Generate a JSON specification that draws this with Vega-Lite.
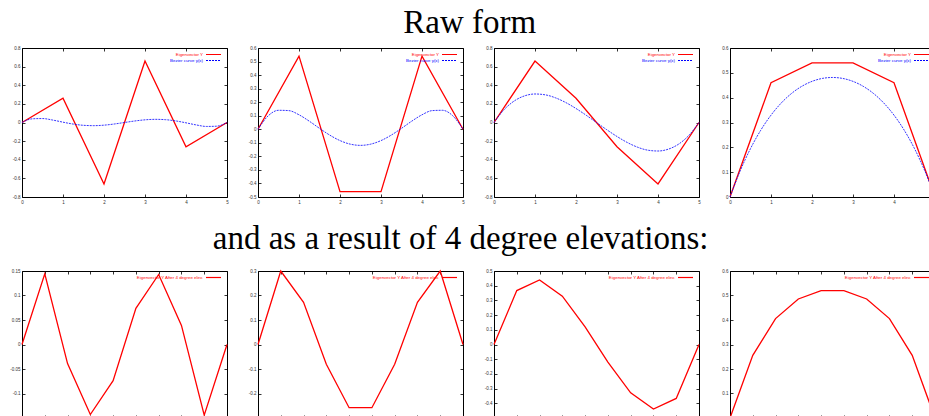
{
  "$schema": "https://vega.github.io/schema/vega-lite/v6.json",
  "padding": {"left": 9, "top": 6, "right": 0, "bottom": 0},
  "background": "white",
  "datasets": {
    "r1": [{"s":"Eigenvector Y","x":0,"y":0},{"s":"Eigenvector Y","x":1,"y":0.26},{"s":"Eigenvector Y","x":2,"y":-0.66},{"s":"Eigenvector Y","x":3,"y":0.66},{"s":"Eigenvector Y","x":4,"y":-0.26},{"s":"Eigenvector Y","x":5,"y":0}],
    "r2": [{"s":"Eigenvector Y","x":0,"y":0},{"s":"Eigenvector Y","x":1,"y":0.54},{"s":"Eigenvector Y","x":2,"y":-0.46},{"s":"Eigenvector Y","x":3,"y":-0.46},{"s":"Eigenvector Y","x":4,"y":0.54},{"s":"Eigenvector Y","x":5,"y":0}],
    "r3": [{"s":"Eigenvector Y","x":0,"y":0},{"s":"Eigenvector Y","x":1,"y":0.66},{"s":"Eigenvector Y","x":2,"y":0.26},{"s":"Eigenvector Y","x":3,"y":-0.26},{"s":"Eigenvector Y","x":4,"y":-0.66},{"s":"Eigenvector Y","x":5,"y":0}],
    "r4": [{"s":"Eigenvector Y","x":0,"y":0},{"s":"Eigenvector Y","x":1,"y":0.46},{"s":"Eigenvector Y","x":2,"y":0.54},{"s":"Eigenvector Y","x":3,"y":0.54},{"s":"Eigenvector Y","x":4,"y":0.46},{"s":"Eigenvector Y","x":5,"y":0}],
    "b1": [{"s":"Bezier curve y(x)","x":0,"y":0},{"s":"Bezier curve y(x)","x":0.25,"y":0.0395},{"s":"Bezier curve y(x)","x":0.5,"y":0.0424},{"s":"Bezier curve y(x)","x":0.75,"y":0.0261},{"s":"Bezier curve y(x)","x":1,"y":0.0035},{"s":"Bezier curve y(x)","x":1.25,"y":-0.017},{"s":"Bezier curve y(x)","x":1.5,"y":-0.0302},{"s":"Bezier curve y(x)","x":1.75,"y":-0.0339},{"s":"Bezier curve y(x)","x":2,"y":-0.0286},{"s":"Bezier curve y(x)","x":2.25,"y":-0.0162},{"s":"Bezier curve y(x)","x":2.5,"y":0},{"s":"Bezier curve y(x)","x":2.75,"y":0.0162},{"s":"Bezier curve y(x)","x":3,"y":0.0286},{"s":"Bezier curve y(x)","x":3.25,"y":0.0339},{"s":"Bezier curve y(x)","x":3.5,"y":0.0302},{"s":"Bezier curve y(x)","x":3.75,"y":0.017},{"s":"Bezier curve y(x)","x":4,"y":-0.0035},{"s":"Bezier curve y(x)","x":4.25,"y":-0.0261},{"s":"Bezier curve y(x)","x":4.5,"y":-0.0424},{"s":"Bezier curve y(x)","x":4.75,"y":-0.0395},{"s":"Bezier curve y(x)","x":5,"y":0}],
    "b2": [{"s":"Bezier curve y(x)","x":0,"y":0},{"s":"Bezier curve y(x)","x":0.25,"y":0.0996},{"s":"Bezier curve y(x)","x":0.5,"y":0.1401},{"s":"Bezier curve y(x)","x":0.75,"y":0.1378},{"s":"Bezier curve y(x)","x":1,"y":0.1069},{"s":"Bezier curve y(x)","x":1.25,"y":0.0598},{"s":"Bezier curve y(x)","x":1.5,"y":0.0069},{"s":"Bezier curve y(x)","x":1.75,"y":-0.0431},{"s":"Bezier curve y(x)","x":2,"y":-0.0835},{"s":"Bezier curve y(x)","x":2.25,"y":-0.1097},{"s":"Bezier curve y(x)","x":2.5,"y":-0.1188},{"s":"Bezier curve y(x)","x":2.75,"y":-0.1097},{"s":"Bezier curve y(x)","x":3,"y":-0.0835},{"s":"Bezier curve y(x)","x":3.25,"y":-0.0431},{"s":"Bezier curve y(x)","x":3.5,"y":0.0069},{"s":"Bezier curve y(x)","x":3.75,"y":0.0598},{"s":"Bezier curve y(x)","x":4,"y":0.1069},{"s":"Bezier curve y(x)","x":4.25,"y":0.1378},{"s":"Bezier curve y(x)","x":4.5,"y":0.1401},{"s":"Bezier curve y(x)","x":4.75,"y":0.0996},{"s":"Bezier curve y(x)","x":5,"y":0}],
    "b3": [{"s":"Bezier curve y(x)","x":0,"y":0},{"s":"Bezier curve y(x)","x":0.25,"y":0.1397},{"s":"Bezier curve y(x)","x":0.5,"y":0.2331},{"s":"Bezier curve y(x)","x":0.75,"y":0.2866},{"s":"Bezier curve y(x)","x":1,"y":0.3061},{"s":"Bezier curve y(x)","x":1.25,"y":0.2971},{"s":"Bezier curve y(x)","x":1.5,"y":0.2649},{"s":"Bezier curve y(x)","x":1.75,"y":0.2144},{"s":"Bezier curve y(x)","x":2,"y":0.1503},{"s":"Bezier curve y(x)","x":2.25,"y":0.0774},{"s":"Bezier curve y(x)","x":2.5,"y":0},{"s":"Bezier curve y(x)","x":2.75,"y":-0.0774},{"s":"Bezier curve y(x)","x":3,"y":-0.1503},{"s":"Bezier curve y(x)","x":3.25,"y":-0.2144},{"s":"Bezier curve y(x)","x":3.5,"y":-0.2649},{"s":"Bezier curve y(x)","x":3.75,"y":-0.2971},{"s":"Bezier curve y(x)","x":4,"y":-0.3061},{"s":"Bezier curve y(x)","x":4.25,"y":-0.2866},{"s":"Bezier curve y(x)","x":4.5,"y":-0.2331},{"s":"Bezier curve y(x)","x":4.75,"y":-0.1397},{"s":"Bezier curve y(x)","x":5,"y":0}],
    "b4": [{"s":"Bezier curve y(x)","x":0,"y":0},{"s":"Bezier curve y(x)","x":0.25,"y":0.1059},{"s":"Bezier curve y(x)","x":0.5,"y":0.1949},{"s":"Bezier curve y(x)","x":0.75,"y":0.2689},{"s":"Bezier curve y(x)","x":1,"y":0.3296},{"s":"Bezier curve y(x)","x":1.25,"y":0.3785},{"s":"Bezier curve y(x)","x":1.5,"y":0.4169},{"s":"Bezier curve y(x)","x":1.75,"y":0.4456},{"s":"Bezier curve y(x)","x":2,"y":0.4656},{"s":"Bezier curve y(x)","x":2.25,"y":0.4774},{"s":"Bezier curve y(x)","x":2.5,"y":0.4813},{"s":"Bezier curve y(x)","x":2.75,"y":0.4774},{"s":"Bezier curve y(x)","x":3,"y":0.4656},{"s":"Bezier curve y(x)","x":3.25,"y":0.4456},{"s":"Bezier curve y(x)","x":3.5,"y":0.4169},{"s":"Bezier curve y(x)","x":3.75,"y":0.3785},{"s":"Bezier curve y(x)","x":4,"y":0.3296},{"s":"Bezier curve y(x)","x":4.25,"y":0.2689},{"s":"Bezier curve y(x)","x":4.5,"y":0.1949},{"s":"Bezier curve y(x)","x":4.75,"y":0.1059},{"s":"Bezier curve y(x)","x":5,"y":0}],
    "e1": [{"s":"Eigenvector Y After 4 degree elev.","x":0,"y":0},{"s":"Eigenvector Y After 4 degree elev.","x":1,"y":0.1444},{"s":"Eigenvector Y After 4 degree elev.","x":2,"y":-0.0389},{"s":"Eigenvector Y After 4 degree elev.","x":3,"y":-0.1429},{"s":"Eigenvector Y After 4 degree elev.","x":4,"y":-0.0738},{"s":"Eigenvector Y After 4 degree elev.","x":5,"y":0.0738},{"s":"Eigenvector Y After 4 degree elev.","x":6,"y":0.1429},{"s":"Eigenvector Y After 4 degree elev.","x":7,"y":0.0389},{"s":"Eigenvector Y After 4 degree elev.","x":8,"y":-0.1444},{"s":"Eigenvector Y After 4 degree elev.","x":9,"y":0}],
    "e2": [{"s":"Eigenvector Y After 4 degree elev.","x":0,"y":0},{"s":"Eigenvector Y After 4 degree elev.","x":1,"y":0.3},{"s":"Eigenvector Y After 4 degree elev.","x":2,"y":0.1722},{"s":"Eigenvector Y After 4 degree elev.","x":3,"y":-0.081},{"s":"Eigenvector Y After 4 degree elev.","x":4,"y":-0.2579},{"s":"Eigenvector Y After 4 degree elev.","x":5,"y":-0.2579},{"s":"Eigenvector Y After 4 degree elev.","x":6,"y":-0.081},{"s":"Eigenvector Y After 4 degree elev.","x":7,"y":0.1722},{"s":"Eigenvector Y After 4 degree elev.","x":8,"y":0.3},{"s":"Eigenvector Y After 4 degree elev.","x":9,"y":0}],
    "e3": [{"s":"Eigenvector Y After 4 degree elev.","x":0,"y":0},{"s":"Eigenvector Y After 4 degree elev.","x":1,"y":0.3667},{"s":"Eigenvector Y After 4 degree elev.","x":2,"y":0.4389},{"s":"Eigenvector Y After 4 degree elev.","x":3,"y":0.3286},{"s":"Eigenvector Y After 4 degree elev.","x":4,"y":0.1198},{"s":"Eigenvector Y After 4 degree elev.","x":5,"y":-0.1198},{"s":"Eigenvector Y After 4 degree elev.","x":6,"y":-0.3286},{"s":"Eigenvector Y After 4 degree elev.","x":7,"y":-0.4389},{"s":"Eigenvector Y After 4 degree elev.","x":8,"y":-0.3667},{"s":"Eigenvector Y After 4 degree elev.","x":9,"y":0}],
    "e4": [{"s":"Eigenvector Y After 4 degree elev.","x":0,"y":0},{"s":"Eigenvector Y After 4 degree elev.","x":1,"y":0.2556},{"s":"Eigenvector Y After 4 degree elev.","x":2,"y":0.4056},{"s":"Eigenvector Y After 4 degree elev.","x":3,"y":0.4857},{"s":"Eigenvector Y After 4 degree elev.","x":4,"y":0.5198},{"s":"Eigenvector Y After 4 degree elev.","x":5,"y":0.5198},{"s":"Eigenvector Y After 4 degree elev.","x":6,"y":0.4857},{"s":"Eigenvector Y After 4 degree elev.","x":7,"y":0.4056},{"s":"Eigenvector Y After 4 degree elev.","x":8,"y":0.2556},{"s":"Eigenvector Y After 4 degree elev.","x":9,"y":0}]
  },
  "config": {
    "view": {"stroke": "black", "strokeWidth": 1},
    "axis": {"labelFont": "Liberation Sans", "labelFontSize": 4.5, "labelColor": "#333333", "tickColor": "black", "tickSize": -3, "tickWidth": 0.8, "domain": false, "grid": false, "labelPadding": 5, "labelFlush": false, "labelOverlap": false},
    "legend": {"orient": "top-right", "offset": 3, "padding": 0, "labelFont": "Liberation Sans", "labelFontSize": 4.4, "symbolType": "M-3,0H3", "symbolSize": 25, "symbolStrokeWidth": 1.2, "labelAlign": "right", "labelOffset": -14, "rowPadding": -2.5, "labelLimit": 300, "labelColor": {"expr": "datum.value == 'Bezier curve y(x)' ? '#0000ff' : '#ff0000'"}},
    "title": {"font": "Liberation Serif", "fontSize": 33, "fontWeight": "normal", "color": "black", "anchor": "middle"},
    "concat": {"spacing": 14}
  },
  "resolve": {"scale": {"color": "independent"}, "legend": {"color": "independent"}},
  "vconcat": [
    {
      "title": {"text": "Raw form", "offset": 5, "dx": -4},
      "spacing": 14,
      "resolve": {"scale": {"color": "independent"}, "legend": {"color": "independent"}},
      "hconcat": [
        {"width": 205, "height": 149, "resolve": {"axis": {"x": "independent", "y": "independent"}}, "layer": [
          {"data": {"name": "r1"}, "mark": {"type": "line", "strokeWidth": 1.3}, "encoding": {
            "x": {"field": "x", "type": "quantitative", "scale": {"domain": [0, 5], "nice": false, "zero": false}, "axis": {"orient": "bottom", "values": [0,1,2,3,4,5], "title": null, "minExtent": 10, "maxExtent": 10}},
            "y": {"field": "y", "type": "quantitative", "scale": {"domain": [-0.8, 0.8], "nice": false, "zero": false}, "axis": {"orient": "left", "values": [-0.8,-0.6,-0.4,-0.2,0,0.2,0.4,0.6,0.8], "title": null, "minExtent": 12, "maxExtent": 12, "labelExpr": "replace(format(datum.value, '~g'), '\u2212', '-')"}},
            "color": {"field": "s", "type": "nominal", "scale": {"domain": ["Eigenvector Y", "Bezier curve y(x)"], "range": ["#ff0000", "#0000ff"]}, "legend": {"title": null, "encode": {"symbols": {"update": {"strokeDash": {"signal": "datum.value == 'Bezier curve y(x)' ? [2, 1] : [1, 0]"}}}}}}}},
          {"data": {"name": "b1"}, "mark": {"type": "line", "strokeWidth": 0.8, "interpolate": "monotone", "strokeDash": [2, 1]}, "encoding": {
            "x": {"field": "x", "type": "quantitative", "axis": null},
            "y": {"field": "y", "type": "quantitative", "axis": null},
            "color": {"field": "s", "type": "nominal"}}},
          {"data": {"name": "r1"}, "mark": {"type": "line", "opacity": 0}, "encoding": {
            "x": {"field": "x", "type": "quantitative", "axis": {"orient": "top", "values": [0,1,2,3,4,5], "labels": false, "title": null, "minExtent": 0, "maxExtent": 0}},
            "y": {"field": "y", "type": "quantitative", "axis": {"orient": "right", "values": [-0.8,-0.6,-0.4,-0.2,0,0.2,0.4,0.6,0.8], "labels": false, "title": null, "minExtent": 0, "maxExtent": 0}}}}
        ]},
        {"width": 205, "height": 149, "resolve": {"axis": {"x": "independent", "y": "independent"}}, "layer": [
          {"data": {"name": "r2"}, "mark": {"type": "line", "strokeWidth": 1.3}, "encoding": {
            "x": {"field": "x", "type": "quantitative", "scale": {"domain": [0, 5], "nice": false, "zero": false}, "axis": {"orient": "bottom", "values": [0,1,2,3,4,5], "title": null, "minExtent": 10, "maxExtent": 10}},
            "y": {"field": "y", "type": "quantitative", "scale": {"domain": [-0.5, 0.6], "nice": false, "zero": false}, "axis": {"orient": "left", "values": [-0.5,-0.4,-0.3,-0.2,-0.1,0,0.1,0.2,0.3,0.4,0.5,0.6], "title": null, "minExtent": 12, "maxExtent": 12, "labelExpr": "replace(format(datum.value, '~g'), '\u2212', '-')"}},
            "color": {"field": "s", "type": "nominal", "scale": {"domain": ["Eigenvector Y", "Bezier curve y(x)"], "range": ["#ff0000", "#0000ff"]}, "legend": {"title": null, "encode": {"symbols": {"update": {"strokeDash": {"signal": "datum.value == 'Bezier curve y(x)' ? [2, 1] : [1, 0]"}}}}}}}},
          {"data": {"name": "b2"}, "mark": {"type": "line", "strokeWidth": 0.8, "interpolate": "monotone", "strokeDash": [2, 1]}, "encoding": {
            "x": {"field": "x", "type": "quantitative", "axis": null},
            "y": {"field": "y", "type": "quantitative", "axis": null},
            "color": {"field": "s", "type": "nominal"}}},
          {"data": {"name": "r2"}, "mark": {"type": "line", "opacity": 0}, "encoding": {
            "x": {"field": "x", "type": "quantitative", "axis": {"orient": "top", "values": [0,1,2,3,4,5], "labels": false, "title": null, "minExtent": 0, "maxExtent": 0}},
            "y": {"field": "y", "type": "quantitative", "axis": {"orient": "right", "values": [-0.5,-0.4,-0.3,-0.2,-0.1,0,0.1,0.2,0.3,0.4,0.5,0.6], "labels": false, "title": null, "minExtent": 0, "maxExtent": 0}}}}
        ]},
        {"width": 205, "height": 149, "resolve": {"axis": {"x": "independent", "y": "independent"}}, "layer": [
          {"data": {"name": "r3"}, "mark": {"type": "line", "strokeWidth": 1.3}, "encoding": {
            "x": {"field": "x", "type": "quantitative", "scale": {"domain": [0, 5], "nice": false, "zero": false}, "axis": {"orient": "bottom", "values": [0,1,2,3,4,5], "title": null, "minExtent": 10, "maxExtent": 10}},
            "y": {"field": "y", "type": "quantitative", "scale": {"domain": [-0.8, 0.8], "nice": false, "zero": false}, "axis": {"orient": "left", "values": [-0.8,-0.6,-0.4,-0.2,0,0.2,0.4,0.6,0.8], "title": null, "minExtent": 12, "maxExtent": 12, "labelExpr": "replace(format(datum.value, '~g'), '\u2212', '-')"}},
            "color": {"field": "s", "type": "nominal", "scale": {"domain": ["Eigenvector Y", "Bezier curve y(x)"], "range": ["#ff0000", "#0000ff"]}, "legend": {"title": null, "encode": {"symbols": {"update": {"strokeDash": {"signal": "datum.value == 'Bezier curve y(x)' ? [2, 1] : [1, 0]"}}}}}}}},
          {"data": {"name": "b3"}, "mark": {"type": "line", "strokeWidth": 0.8, "interpolate": "monotone", "strokeDash": [2, 1]}, "encoding": {
            "x": {"field": "x", "type": "quantitative", "axis": null},
            "y": {"field": "y", "type": "quantitative", "axis": null},
            "color": {"field": "s", "type": "nominal"}}},
          {"data": {"name": "r3"}, "mark": {"type": "line", "opacity": 0}, "encoding": {
            "x": {"field": "x", "type": "quantitative", "axis": {"orient": "top", "values": [0,1,2,3,4,5], "labels": false, "title": null, "minExtent": 0, "maxExtent": 0}},
            "y": {"field": "y", "type": "quantitative", "axis": {"orient": "right", "values": [-0.8,-0.6,-0.4,-0.2,0,0.2,0.4,0.6,0.8], "labels": false, "title": null, "minExtent": 0, "maxExtent": 0}}}}
        ]},
        {"width": 205, "height": 149, "resolve": {"axis": {"x": "independent", "y": "independent"}}, "layer": [
          {"data": {"name": "r4"}, "mark": {"type": "line", "strokeWidth": 1.3}, "encoding": {
            "x": {"field": "x", "type": "quantitative", "scale": {"domain": [0, 5], "nice": false, "zero": false}, "axis": {"orient": "bottom", "values": [0,1,2,3,4,5], "title": null, "minExtent": 10, "maxExtent": 10}},
            "y": {"field": "y", "type": "quantitative", "scale": {"domain": [0, 0.6], "nice": false, "zero": false}, "axis": {"orient": "left", "values": [0,0.1,0.2,0.3,0.4,0.5,0.6], "title": null, "minExtent": 12, "maxExtent": 12, "labelExpr": "replace(format(datum.value, '~g'), '\u2212', '-')"}},
            "color": {"field": "s", "type": "nominal", "scale": {"domain": ["Eigenvector Y", "Bezier curve y(x)"], "range": ["#ff0000", "#0000ff"]}, "legend": {"title": null, "encode": {"symbols": {"update": {"strokeDash": {"signal": "datum.value == 'Bezier curve y(x)' ? [2, 1] : [1, 0]"}}}}}}}},
          {"data": {"name": "b4"}, "mark": {"type": "line", "strokeWidth": 0.8, "interpolate": "monotone", "strokeDash": [2, 1]}, "encoding": {
            "x": {"field": "x", "type": "quantitative", "axis": null},
            "y": {"field": "y", "type": "quantitative", "axis": null},
            "color": {"field": "s", "type": "nominal"}}},
          {"data": {"name": "r4"}, "mark": {"type": "line", "opacity": 0}, "encoding": {
            "x": {"field": "x", "type": "quantitative", "axis": {"orient": "top", "values": [0,1,2,3,4,5], "labels": false, "title": null, "minExtent": 0, "maxExtent": 0}},
            "y": {"field": "y", "type": "quantitative", "axis": {"orient": "right", "values": [0,0.1,0.2,0.3,0.4,0.5,0.6], "labels": false, "title": null, "minExtent": 0, "maxExtent": 0}}}}
        ]}
      ]
    },
    {
      "title": {"text": "and as a result of 4 degree elevations:", "offset": 12, "dx": -13},
      "spacing": 14,
      "resolve": {"scale": {"color": "independent"}, "legend": {"color": "independent"}},
      "hconcat": [
        {"width": 205, "height": 147, "resolve": {"axis": {"x": "independent", "y": "independent"}}, "layer": [
          {"data": {"name": "e1"}, "mark": {"type": "line", "strokeWidth": 1.3}, "encoding": {
            "x": {"field": "x", "type": "quantitative", "scale": {"domain": [0, 9], "nice": false, "zero": false}, "axis": {"orient": "bottom", "values": [0,1,2,3,4,5,6,7,8,9], "title": null, "minExtent": 10, "maxExtent": 10}},
            "y": {"field": "y", "type": "quantitative", "scale": {"domain": [-0.15, 0.15], "nice": false, "zero": false}, "axis": {"orient": "left", "values": [-0.15,-0.1,-0.05,0,0.05,0.1,0.15], "title": null, "minExtent": 12, "maxExtent": 12, "labelExpr": "replace(format(datum.value, '~g'), '\u2212', '-')"}},
            "color": {"field": "s", "type": "nominal", "scale": {"domain": ["Eigenvector Y After 4 degree elev."], "range": ["#ff0000"]}, "legend": {"title": null}}}},
          {"data": {"name": "e1"}, "mark": {"type": "line", "opacity": 0}, "encoding": {
            "x": {"field": "x", "type": "quantitative", "axis": {"orient": "top", "values": [0,1,2,3,4,5,6,7,8,9], "labels": false, "title": null, "minExtent": 0, "maxExtent": 0}},
            "y": {"field": "y", "type": "quantitative", "axis": {"orient": "right", "values": [-0.15,-0.1,-0.05,0,0.05,0.1,0.15], "labels": false, "title": null, "minExtent": 0, "maxExtent": 0}}}}
        ]},
        {"width": 205, "height": 147, "resolve": {"axis": {"x": "independent", "y": "independent"}}, "layer": [
          {"data": {"name": "e2"}, "mark": {"type": "line", "strokeWidth": 1.3}, "encoding": {
            "x": {"field": "x", "type": "quantitative", "scale": {"domain": [0, 9], "nice": false, "zero": false}, "axis": {"orient": "bottom", "values": [0,1,2,3,4,5,6,7,8,9], "title": null, "minExtent": 10, "maxExtent": 10}},
            "y": {"field": "y", "type": "quantitative", "scale": {"domain": [-0.3, 0.3], "nice": false, "zero": false}, "axis": {"orient": "left", "values": [-0.3,-0.2,-0.1,0,0.1,0.2,0.3], "title": null, "minExtent": 12, "maxExtent": 12, "labelExpr": "replace(format(datum.value, '~g'), '\u2212', '-')"}},
            "color": {"field": "s", "type": "nominal", "scale": {"domain": ["Eigenvector Y After 4 degree elev."], "range": ["#ff0000"]}, "legend": {"title": null}}}},
          {"data": {"name": "e2"}, "mark": {"type": "line", "opacity": 0}, "encoding": {
            "x": {"field": "x", "type": "quantitative", "axis": {"orient": "top", "values": [0,1,2,3,4,5,6,7,8,9], "labels": false, "title": null, "minExtent": 0, "maxExtent": 0}},
            "y": {"field": "y", "type": "quantitative", "axis": {"orient": "right", "values": [-0.3,-0.2,-0.1,0,0.1,0.2,0.3], "labels": false, "title": null, "minExtent": 0, "maxExtent": 0}}}}
        ]},
        {"width": 205, "height": 147, "resolve": {"axis": {"x": "independent", "y": "independent"}}, "layer": [
          {"data": {"name": "e3"}, "mark": {"type": "line", "strokeWidth": 1.3}, "encoding": {
            "x": {"field": "x", "type": "quantitative", "scale": {"domain": [0, 9], "nice": false, "zero": false}, "axis": {"orient": "bottom", "values": [0,1,2,3,4,5,6,7,8,9], "title": null, "minExtent": 10, "maxExtent": 10}},
            "y": {"field": "y", "type": "quantitative", "scale": {"domain": [-0.5, 0.5], "nice": false, "zero": false}, "axis": {"orient": "left", "values": [-0.5,-0.4,-0.3,-0.2,-0.1,0,0.1,0.2,0.3,0.4,0.5], "title": null, "minExtent": 12, "maxExtent": 12, "labelExpr": "replace(format(datum.value, '~g'), '\u2212', '-')"}},
            "color": {"field": "s", "type": "nominal", "scale": {"domain": ["Eigenvector Y After 4 degree elev."], "range": ["#ff0000"]}, "legend": {"title": null}}}},
          {"data": {"name": "e3"}, "mark": {"type": "line", "opacity": 0}, "encoding": {
            "x": {"field": "x", "type": "quantitative", "axis": {"orient": "top", "values": [0,1,2,3,4,5,6,7,8,9], "labels": false, "title": null, "minExtent": 0, "maxExtent": 0}},
            "y": {"field": "y", "type": "quantitative", "axis": {"orient": "right", "values": [-0.5,-0.4,-0.3,-0.2,-0.1,0,0.1,0.2,0.3,0.4,0.5], "labels": false, "title": null, "minExtent": 0, "maxExtent": 0}}}}
        ]},
        {"width": 205, "height": 147, "resolve": {"axis": {"x": "independent", "y": "independent"}}, "layer": [
          {"data": {"name": "e4"}, "mark": {"type": "line", "strokeWidth": 1.3}, "encoding": {
            "x": {"field": "x", "type": "quantitative", "scale": {"domain": [0, 9], "nice": false, "zero": false}, "axis": {"orient": "bottom", "values": [0,1,2,3,4,5,6,7,8,9], "title": null, "minExtent": 10, "maxExtent": 10}},
            "y": {"field": "y", "type": "quantitative", "scale": {"domain": [0, 0.6], "nice": false, "zero": false}, "axis": {"orient": "left", "values": [0,0.1,0.2,0.3,0.4,0.5,0.6], "title": null, "minExtent": 12, "maxExtent": 12, "labelExpr": "replace(format(datum.value, '~g'), '\u2212', '-')"}},
            "color": {"field": "s", "type": "nominal", "scale": {"domain": ["Eigenvector Y After 4 degree elev."], "range": ["#ff0000"]}, "legend": {"title": null}}}},
          {"data": {"name": "e4"}, "mark": {"type": "line", "opacity": 0}, "encoding": {
            "x": {"field": "x", "type": "quantitative", "axis": {"orient": "top", "values": [0,1,2,3,4,5,6,7,8,9], "labels": false, "title": null, "minExtent": 0, "maxExtent": 0}},
            "y": {"field": "y", "type": "quantitative", "axis": {"orient": "right", "values": [0,0.1,0.2,0.3,0.4,0.5,0.6], "labels": false, "title": null, "minExtent": 0, "maxExtent": 0}}}}
        ]}
      ]
    }
  ],
  "spacing": 14
}
